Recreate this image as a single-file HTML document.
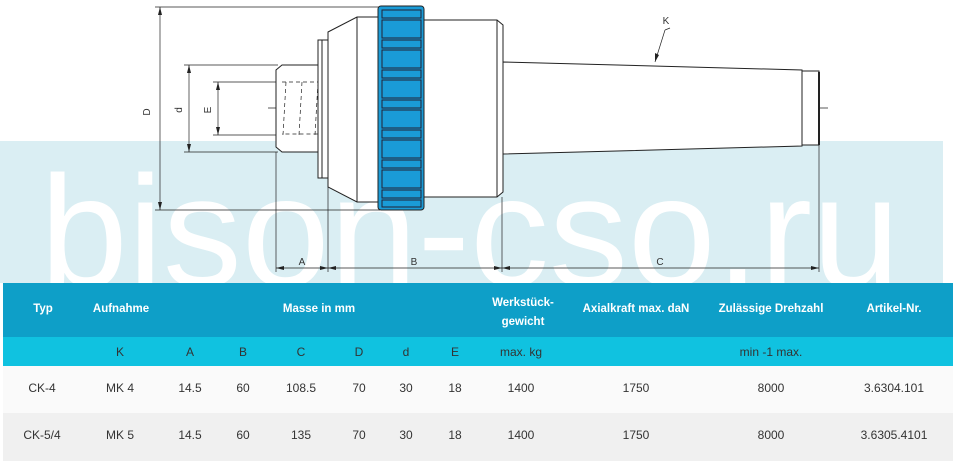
<!DOCTYPE html>
<html><head><meta charset="utf-8"><style>
body{margin:0;width:958px;height:468px;background:#fff;position:relative;overflow:hidden;font-family:"Liberation Sans",sans-serif}
.t{position:absolute;transform:translateX(-50%);white-space:nowrap;font-size:12px}
.h{color:#fff;font-weight:bold;font-size:11.5px}
.r{color:#333;font-size:12px}
</style></head><body>
<svg width="958" height="290" style="position:absolute;left:0;top:0">
<rect x="0" y="141" width="943" height="142" fill="#daeef3"/>
<text x="40" y="286" font-family="Liberation Sans" font-size="158" fill="#fff" textLength="860" lengthAdjust="spacingAndGlyphs">bison-cso.ru</text>
</svg>
<svg width="958" height="290" style="position:absolute;left:0;top:0" fill="none" stroke="#222" stroke-width="1">
<g stroke-width="0.7">
<line x1="155" y1="7" x2="380" y2="7"/><line x1="155" y1="210" x2="380" y2="210"/>
<line x1="160" y1="7" x2="160" y2="210"/>
<line x1="184" y1="65" x2="278" y2="65"/><line x1="184" y1="152" x2="278" y2="152"/>
<line x1="189" y1="65" x2="189" y2="152"/>
<line x1="213" y1="82" x2="290" y2="82"/><line x1="213" y1="135" x2="290" y2="135"/>
<line x1="218" y1="82" x2="218" y2="135"/>
<line x1="276" y1="152" x2="276" y2="272"/><line x1="328" y1="178" x2="328" y2="272"/>
<line x1="502" y1="197" x2="502" y2="272"/><line x1="819" y1="145" x2="819" y2="272"/>
<line x1="276" y1="268" x2="819" y2="268"/>
<line x1="655" y1="62" x2="665" y2="30"/><line x1="665" y1="30" x2="670" y2="28"/>
</g>
<g fill="#222" stroke="none">
<path d="M160 7l-2 8h4z"/><path d="M160 210l-2-8h4z"/>
<path d="M189 65l-2 8h4z"/><path d="M189 152l-2-8h4z"/>
<path d="M218 82l-2 8h4z"/><path d="M218 135l-2-8h4z"/>
<path d="M276 268l8-2v4z"/><path d="M328 268l-8-2v4z"/><path d="M328 268l8-2v4z"/>
<path d="M502 268l-8-2v4z"/><path d="M502 268l8-2v4z"/><path d="M819 268l-8-2v4z"/>
<path d="M655 62l0-9 4 2z"/>
</g>
<g font-family="Liberation Sans" font-size="10" fill="#333" stroke="none">
<text x="150" y="112" transform="rotate(-90 150 112)" text-anchor="middle">D</text>
<text x="182" y="110" transform="rotate(-90 182 110)" text-anchor="middle">d</text>
<text x="211" y="110" transform="rotate(-90 211 110)" text-anchor="middle">E</text>
<text x="302" y="265" text-anchor="middle">A</text>
<text x="414" y="265" text-anchor="middle">B</text>
<text x="660" y="265" text-anchor="middle">C</text>
<text x="666" y="24" text-anchor="middle">K</text>
</g>
<line x1="268" y1="108" x2="828" y2="108" stroke-width="0.7" stroke-dasharray="18 4 3 4"/>
<path d="M282 65h36v87h-36l-6-5v-77z" fill="#fff"/>
<g stroke-width="0.7" stroke-dasharray="4 3"><path d="M282 82h60l10 10 6 16-6 16-10 10h-60"/><line x1="286" y1="82" x2="283" y2="135"/><line x1="302" y1="82" x2="299" y2="135"/><line x1="318" y1="82" x2="315" y2="135"/></g>
<rect x="318" y="40" width="10" height="138" fill="#fff"/>
<line x1="322" y1="40" x2="322" y2="178"/>
<path d="M328 32l29-15h21v185h-21l-29-15z" fill="#fff"/>
<line x1="357" y1="17" x2="357" y2="202"/>
<path d="M424 20h73l6 5v167l-6 5h-73z" fill="#fff"/>
<line x1="497" y1="20" x2="497" y2="197"/>
<path d="M503 62l299 8v76l-299 8z" fill="#fff"/>
<path d="M802 71h17v74h-17z" fill="#fff"/>
<line x1="819" y1="72" x2="819" y2="145" stroke-width="2"/>
<rect x="378" y="6" width="46" height="204" rx="3" fill="#1a9bd7"/>
<g fill="#1a9bd7" stroke="#223">
<rect x="382" y="10" width="39" height="8"/><rect x="382" y="20" width="39" height="18"/>
<rect x="382" y="40" width="39" height="8"/><rect x="382" y="50" width="39" height="18"/>
<rect x="382" y="70" width="39" height="8"/><rect x="382" y="80" width="39" height="18"/>
<rect x="382" y="100" width="39" height="8"/><rect x="382" y="110" width="39" height="18"/>
<rect x="382" y="130" width="39" height="8"/><rect x="382" y="140" width="39" height="18"/>
<rect x="382" y="160" width="39" height="8"/><rect x="382" y="170" width="39" height="18"/>
<rect x="382" y="190" width="39" height="8"/><rect x="382" y="200" width="39" height="7"/>
</g>
</svg>
<div style="position:absolute;left:3px;top:283px;width:950px;height:54px;background:#0e9fc8"></div>
<div style="position:absolute;left:3px;top:337px;width:950px;height:29px;background:#10c2e0"></div>
<div style="position:absolute;left:3px;top:366px;width:950px;height:47px;background:#fafafa"></div>
<div style="position:absolute;left:3px;top:413px;width:950px;height:48px;background:#f0f0f0"></div>
<div class="t h" style="left:43px;top:303px">Typ</div>
<div class="t h" style="left:121px;top:303px">Aufnahme</div>
<div class="t h" style="left:319px;top:303px">Masse in mm</div>
<div class="t h" style="left:523px;top:294px;text-align:center;line-height:19px">Werkstück-<br>gewicht</div>
<div class="t h" style="left:636px;top:303px">Axialkraft max. daN</div>
<div class="t h" style="left:771px;top:303px">Zulässige Drehzahl</div>
<div class="t h" style="left:894px;top:303px">Artikel-Nr.</div>
<div class="t r" style="left:120px;top:345px">K</div>
<div class="t r" style="left:190px;top:345px">A</div>
<div class="t r" style="left:243px;top:345px">B</div>
<div class="t r" style="left:301px;top:345px">C</div>
<div class="t r" style="left:359px;top:345px">D</div>
<div class="t r" style="left:406px;top:345px">d</div>
<div class="t r" style="left:455px;top:345px">E</div>
<div class="t r" style="left:521px;top:345px">max. kg</div>
<div class="t r" style="left:771px;top:345px">min -1 max.</div>
<div class="t r" style="left:42px;top:381px">CK-4</div>
<div class="t r" style="left:120px;top:381px">MK 4</div>
<div class="t r" style="left:190px;top:381px">14.5</div>
<div class="t r" style="left:243px;top:381px">60</div>
<div class="t r" style="left:301px;top:381px">108.5</div>
<div class="t r" style="left:359px;top:381px">70</div>
<div class="t r" style="left:406px;top:381px">30</div>
<div class="t r" style="left:455px;top:381px">18</div>
<div class="t r" style="left:521px;top:381px">1400</div>
<div class="t r" style="left:636px;top:381px">1750</div>
<div class="t r" style="left:771px;top:381px">8000</div>
<div class="t r" style="left:894px;top:381px">3.6304.101</div>
<div class="t r" style="left:42px;top:428px">CK-5/4</div>
<div class="t r" style="left:120px;top:428px">MK 5</div>
<div class="t r" style="left:190px;top:428px">14.5</div>
<div class="t r" style="left:243px;top:428px">60</div>
<div class="t r" style="left:301px;top:428px">135</div>
<div class="t r" style="left:359px;top:428px">70</div>
<div class="t r" style="left:406px;top:428px">30</div>
<div class="t r" style="left:455px;top:428px">18</div>
<div class="t r" style="left:521px;top:428px">1400</div>
<div class="t r" style="left:636px;top:428px">1750</div>
<div class="t r" style="left:771px;top:428px">8000</div>
<div class="t r" style="left:894px;top:428px">3.6305.4101</div>
</body></html>
